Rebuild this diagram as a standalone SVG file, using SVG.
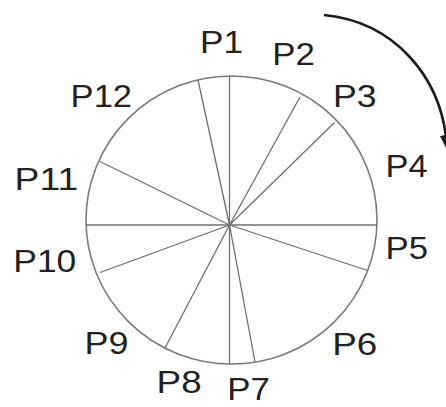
<svg xmlns="http://www.w3.org/2000/svg" width="446" height="407" viewBox="0 0 446 407">
<style>
.lbl{font-family:"Liberation Sans",Arial,sans-serif;font-size:31px;fill:#222}
.sp{stroke:#6f6f6f;stroke-width:1.3;fill:none}
.rim{stroke:#7a7a7a;stroke-width:1.6;fill:none}
.arc{stroke:#1c1c1c;stroke-width:2.6;fill:none}
</style>
<defs>
<marker id="ah" markerUnits="userSpaceOnUse" markerWidth="20" markerHeight="20" refX="2" refY="6" orient="auto" viewBox="0 0 20 12">
<path d="M0,0 L16,6 L0,12 Z" fill="#1c1c1c"/>
</marker>
</defs>
<rect width="446" height="407" fill="#fff"/>
<g id="wheel">
<ellipse class="rim" cx="231.5" cy="220" rx="145.5" ry="144"/>
<g id="spokes">
<line class="sp" x1="229.5" y1="76" x2="229.5" y2="364"/>
<line class="sp" x1="86" y1="225" x2="377" y2="225"/>
<line class="sp" x1="229.5" y1="225" x2="198" y2="80"/>
<line class="sp" x1="229.5" y1="225" x2="300" y2="97"/>
<line class="sp" x1="229.5" y1="225" x2="334.5" y2="122.5"/>
<line class="sp" x1="229.5" y1="225" x2="100" y2="161.5"/>
<line class="sp" x1="229.5" y1="225" x2="100" y2="272.5"/>
<line class="sp" x1="229.5" y1="225" x2="367.5" y2="270.5"/>
<line class="sp" x1="229.5" y1="225" x2="164.5" y2="349"/>
<line class="sp" x1="229.5" y1="225" x2="255" y2="362"/>
</g>
</g>
<g id="connectors">
<path class="arc" d="M324,15 C396,22 439,78 446,137" marker-end="url(#ah)"/>
</g>
<g id="labels">
<text id="P1" class="lbl" x="200" y="53" textLength="43" lengthAdjust="spacingAndGlyphs">P1</text>
<text id="P2" class="lbl" x="272.3" y="65" textLength="42.5" lengthAdjust="spacingAndGlyphs">P2</text>
<text id="P3" class="lbl" x="333" y="107.3" textLength="43.5" lengthAdjust="spacingAndGlyphs">P3</text>
<text id="P4" class="lbl" x="385.6" y="177.3" textLength="42" lengthAdjust="spacingAndGlyphs">P4</text>
<text id="P5" class="lbl" x="385.6" y="259.3" textLength="42.5" lengthAdjust="spacingAndGlyphs">P5</text>
<text id="P6" class="lbl" x="332.3" y="355" textLength="45" lengthAdjust="spacingAndGlyphs">P6</text>
<text id="P7" class="lbl" x="227.3" y="400" textLength="42.5" lengthAdjust="spacingAndGlyphs">P7</text>
<text id="P8" class="lbl" x="156.6" y="393.3" textLength="45" lengthAdjust="spacingAndGlyphs">P8</text>
<text id="P9" class="lbl" x="84.6" y="354" textLength="44" lengthAdjust="spacingAndGlyphs">P9</text>
<text id="P10" class="lbl" x="13.3" y="271.5" textLength="63" lengthAdjust="spacingAndGlyphs">P10</text>
<text id="P11" class="lbl" x="14.6" y="189.5" textLength="63.5" lengthAdjust="spacingAndGlyphs">P11</text>
<text id="P12" class="lbl" x="70.6" y="107.3" textLength="61.5" lengthAdjust="spacingAndGlyphs">P12</text>
</g>
</svg>
